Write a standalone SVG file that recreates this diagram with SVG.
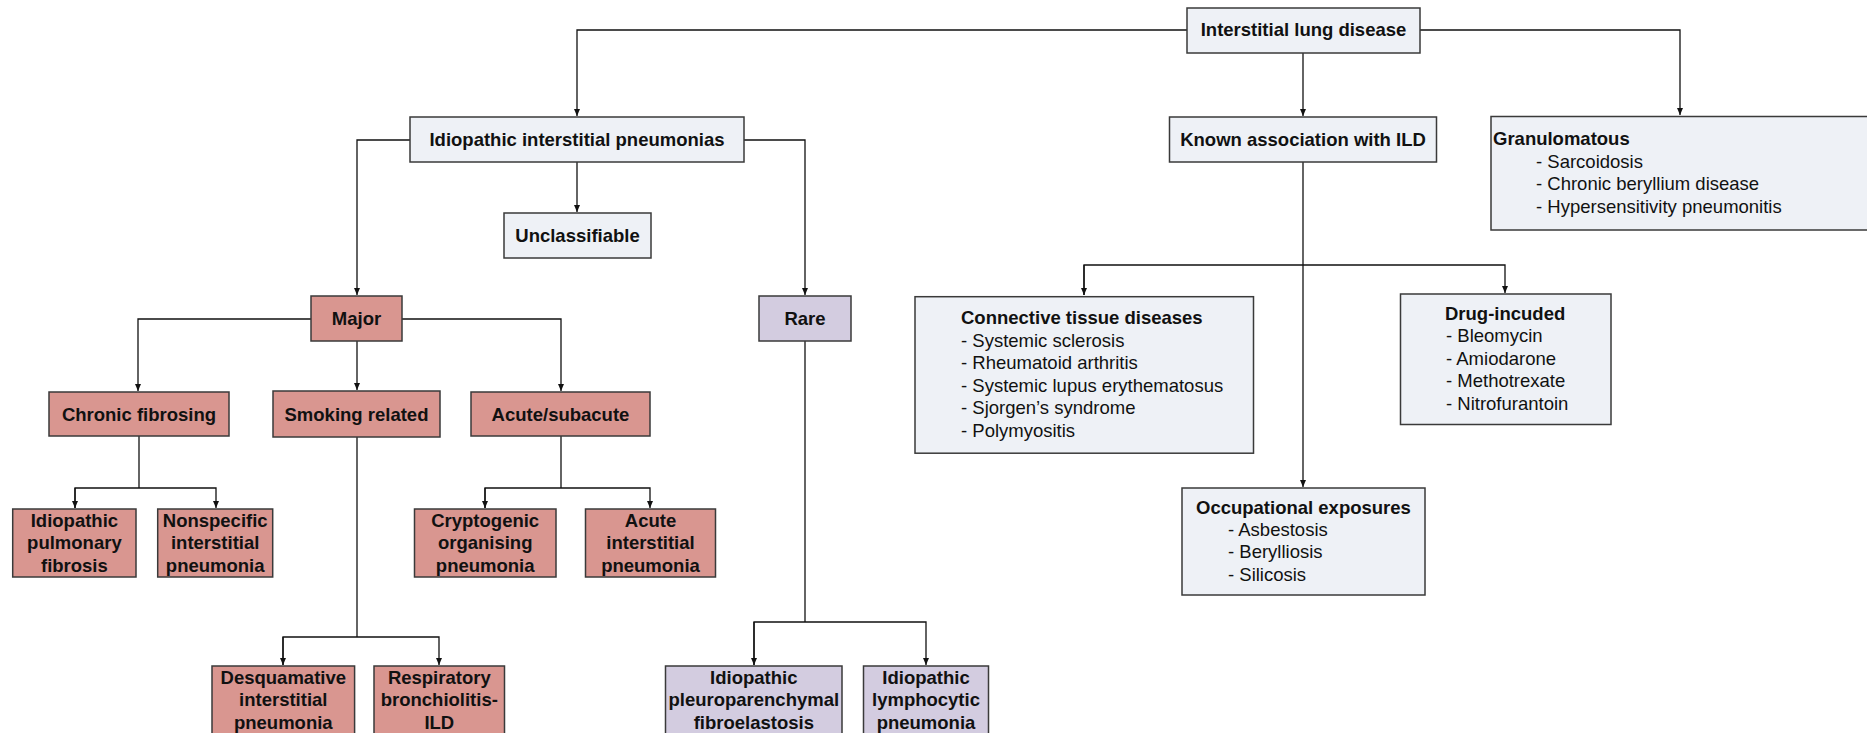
<svg xmlns="http://www.w3.org/2000/svg" width="1867" height="733" viewBox="0 0 1867 733">
<defs>
<marker id="arr" markerUnits="userSpaceOnUse" markerWidth="8" markerHeight="6" refX="7" refY="3" orient="auto">
<path d="M0,0 L7,3 L0,6 z" fill="#111"/>
</marker>
<style>
.box{stroke:#3a3a3a;stroke-width:1.5}
.blue{fill:#EEF1F6}
.red{fill:#D99690}
.purple{fill:#D3CCE0}
.t{font-family:"Liberation Sans",Arial,sans-serif;font-size:18.5px;fill:#111}
.b{font-weight:bold}
.c{text-anchor:middle}
.ln{fill:none;stroke:#111;stroke-width:1.3}
</style>
</defs>
<rect width="1867" height="733" fill="#fff"/>

<g id="connectors">
<path class="ln" d="M1187,30 H577 V116" marker-end="url(#arr)"/>
<path class="ln" d="M1303,53 V116" marker-end="url(#arr)"/>
<path class="ln" d="M1420,30 H1680 V115" marker-end="url(#arr)"/>
<path class="ln" d="M577,162 V212" marker-end="url(#arr)"/>
<path class="ln" d="M410,140 H357 V295" marker-end="url(#arr)"/>
<path class="ln" d="M744,140 H805 V295" marker-end="url(#arr)"/>
<path class="ln" d="M311,319 H138 V391" marker-end="url(#arr)"/>
<path class="ln" d="M357,341 V390" marker-end="url(#arr)"/>
<path class="ln" d="M402,319 H561 V391" marker-end="url(#arr)"/>
<path class="ln" d="M139,436 V488"/>
<path class="ln" d="M75,508 V488 H216 V508" marker-end="url(#arr)"/>
<path class="ln" d="M75,488 V508" marker-end="url(#arr)"/>
<path class="ln" d="M357,437 V637"/>
<path class="ln" d="M283,665 V637 H439 V665" marker-end="url(#arr)"/>
<path class="ln" d="M283,637 V665" marker-end="url(#arr)"/>
<path class="ln" d="M561,436 V488"/>
<path class="ln" d="M485,508 V488 H650 V508" marker-end="url(#arr)"/>
<path class="ln" d="M485,488 V508" marker-end="url(#arr)"/>
<path class="ln" d="M805,341 V622"/>
<path class="ln" d="M754,665 V622 H926 V665" marker-end="url(#arr)"/>
<path class="ln" d="M754,622 V665" marker-end="url(#arr)"/>
<path class="ln" d="M1303,162 V487" marker-end="url(#arr)"/>
<path class="ln" d="M1084,295 V265 H1505 V293" marker-end="url(#arr)"/>
<path class="ln" d="M1084,265 V295" marker-end="url(#arr)"/>
</g>

<g id="ild">
<rect class="box blue" x="1187" y="8" width="233" height="45"/>
<text class="t b c" x="1303.5" y="36">Interstitial lung disease</text>
</g>
<g id="iip">
<rect class="box blue" x="410" y="117" width="334" height="45"/>
<text class="t b c" x="577" y="146">Idiopathic interstitial pneumonias</text>
</g>
<g id="known">
<rect class="box blue" x="1169.5" y="117" width="267" height="45"/>
<text class="t b c" x="1303" y="146">Known association with ILD</text>
</g>
<g id="granulomatous">
<rect class="box blue" x="1491" y="116.5" width="380" height="113.5"/>
<text class="t b" x="1493" y="145">Granulomatous</text>
<text class="t" x="1536" y="167.5">- Sarcoidosis</text>
<text class="t" x="1536" y="190">- Chronic beryllium disease</text>
<text class="t" x="1536" y="212.5">- Hypersensitivity pneumonitis</text>
</g>
<g id="unclassifiable">
<rect class="box blue" x="504" y="213" width="147" height="45"/>
<text class="t b c" x="577.5" y="242">Unclassifiable</text>
</g>
<g id="major">
<rect class="box red" x="311" y="296" width="91" height="45"/>
<text class="t b c" x="356.5" y="325">Major</text>
</g>
<g id="rare">
<rect class="box purple" x="759" y="296" width="92" height="45"/>
<text class="t b c" x="805" y="325">Rare</text>
</g>
<g id="chronic-fibrosing">
<rect class="box red" x="49" y="392" width="180" height="44"/>
<text class="t b c" x="139" y="420.5">Chronic fibrosing</text>
</g>
<g id="smoking-related">
<rect class="box red" x="273" y="391" width="167" height="46"/>
<text class="t b c" x="356.5" y="420.5">Smoking related</text>
</g>
<g id="acute-subacute">
<rect class="box red" x="471" y="392" width="179" height="44"/>
<text class="t b c" x="560.5" y="420.5">Acute/subacute</text>
</g>
<g id="ipf">
<rect class="box red" x="12.7" y="509" width="123.3" height="68"/>
<text class="t b c" x="74.4" y="526.5">Idiopathic</text>
<text class="t b c" x="74.4" y="549">pulmonary</text>
<text class="t b c" x="74.4" y="571.5">fibrosis</text>
</g>
<g id="nsip">
<rect class="box red" x="157.7" y="509" width="115" height="68"/>
<text class="t b c" x="215.2" y="526.5">Nonspecific</text>
<text class="t b c" x="215.2" y="549">interstitial</text>
<text class="t b c" x="215.2" y="571.5">pneumonia</text>
</g>
<g id="cop">
<rect class="box red" x="414.5" y="509" width="141.5" height="68"/>
<text class="t b c" x="485.2" y="526.5">Cryptogenic</text>
<text class="t b c" x="485.2" y="549">organising</text>
<text class="t b c" x="485.2" y="571.5">pneumonia</text>
</g>
<g id="aip">
<rect class="box red" x="585.5" y="509" width="130" height="68"/>
<text class="t b c" x="650.5" y="526.5">Acute</text>
<text class="t b c" x="650.5" y="549">interstitial</text>
<text class="t b c" x="650.5" y="571.5">pneumonia</text>
</g>
<g id="dip">
<rect class="box red" x="212" y="666" width="142.6" height="80"/>
<text class="t b c" x="283.3" y="683.5">Desquamative</text>
<text class="t b c" x="283.3" y="706">interstitial</text>
<text class="t b c" x="283.3" y="728.5">pneumonia</text>
</g>
<g id="rb-ild">
<rect class="box red" x="374" y="666" width="130.5" height="80"/>
<text class="t b c" x="439.3" y="683.5">Respiratory</text>
<text class="t b c" x="439.3" y="706">bronchiolitis-</text>
<text class="t b c" x="439.3" y="728.5">ILD</text>
</g>
<g id="ippfe">
<rect class="box purple" x="665.5" y="666" width="176.5" height="80"/>
<text class="t b c" x="753.8" y="683.5">Idiopathic</text>
<text class="t b c" x="753.8" y="706">pleuroparenchymal</text>
<text class="t b c" x="753.8" y="728.5">fibroelastosis</text>
</g>
<g id="lip">
<rect class="box purple" x="863.5" y="666" width="125" height="80"/>
<text class="t b c" x="926" y="683.5">Idiopathic</text>
<text class="t b c" x="926" y="706">lymphocytic</text>
<text class="t b c" x="926" y="728.5">pneumonia</text>
</g>
<g id="ctd">
<rect class="box blue" x="915" y="296.7" width="338.5" height="156.5"/>
<text class="t b" x="961" y="324">Connective tissue diseases</text>
<text class="t" x="961" y="346.5">- Systemic sclerosis</text>
<text class="t" x="961" y="369">- Rheumatoid arthritis</text>
<text class="t" x="961" y="391.5">- Systemic lupus erythematosus</text>
<text class="t" x="961" y="414">- Sjorgen’s syndrome</text>
<text class="t" x="961" y="436.5">- Polymyositis</text>
</g>
<g id="drug">
<rect class="box blue" x="1400.5" y="294" width="210.5" height="130.5"/>
<text class="t b" x="1445" y="319.5">Drug-incuded</text>
<text class="t" x="1446" y="342">- Bleomycin</text>
<text class="t" x="1446" y="364.5">- Amiodarone</text>
<text class="t" x="1446" y="387">- Methotrexate</text>
<text class="t" x="1446" y="409.5">- Nitrofurantoin</text>
</g>
<g id="occupational">
<rect class="box blue" x="1182" y="488" width="243" height="107"/>
<text class="t b" x="1196" y="513.5">Occupational exposures</text>
<text class="t" x="1228" y="535.5">- Asbestosis</text>
<text class="t" x="1228" y="558">- Berylliosis</text>
<text class="t" x="1228" y="580.5">- Silicosis</text>
</g>
</svg>
